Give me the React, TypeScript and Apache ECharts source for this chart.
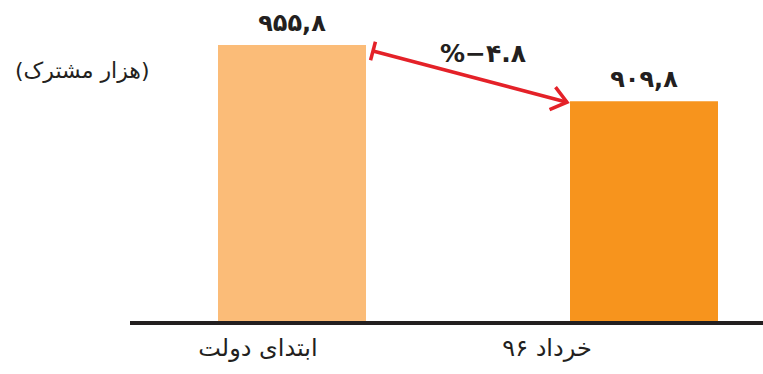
import React, { useEffect, useRef } from "react";
import * as echarts from "echarts";

// Subscribers (thousands) at the start of the government and in Khordad 96
const categories = ["ابتدای دولت", "خرداد ۹۶"];
const subscribers = [955.8, 909.8];
const barColors = ["#FBBC78", "#F7941D"];
const unitLabel = "(هزار مشترک)";

const TEXT = "#231F20";
const RED = "#E42128";
const FONT = "'DejaVu Sans', 'Noto Sans', sans-serif";
const BAR_WIDTH = 148;
const VIEW_W = 763;

const toPersian = (s: string) => s.replace(/\d/g, (d) => "۰۱۲۳۴۵۶۷۸۹"[+d]);

export default function App() {
  const ref = useRef<HTMLDivElement>(null);

  useEffect(() => {
    if (!ref.current) return;
    const chart = echarts.init(ref.current, null, { renderer: "svg" });

    chart.setOption({
      animation: false,
      // the plot runs past the visible right edge so the second bar sits near it
      grid: { left: 116, right: 0, top: 45, bottom: 53 },
      title: {
        text: unitLabel,
        left: 10,
        top: 54,
        textStyle: { fontFamily: FONT, fontSize: 22, fontWeight: "normal", color: TEXT },
      },
      xAxis: {
        type: "category",
        data: categories,
        axisLine: { show: false },
        axisTick: { show: false },
        axisLabel: {
          margin: 15,
          formatter: (v: string, i: number) => `{c${i}|${v}}`,
          rich: {
            c0: { fontFamily: FONT, fontSize: 24, color: TEXT, padding: [0, 68, 0, 0] },
            c1: { fontFamily: FONT, fontSize: 24, color: TEXT, padding: [0, 194, 0, 0] },
          },
        },
      },
      yAxis: { type: "value", min: 730, max: 955.8, show: false, splitLine: { show: false } },
      series: [
        {
          type: "bar",
          barWidth: BAR_WIDTH,
          data: subscribers.map((v, i) => ({ value: v, itemStyle: { color: barColors[i] } })),
          label: {
            show: true,
            position: "top",
            distance: 10,
            fontFamily: FONT,
            fontSize: 24,
            fontWeight: "bold",
            color: TEXT,
            formatter: (p: any) => toPersian(p.value.toFixed(1)).replace(".", ","),
          },
        },
      ],
    });

    // Change arrow between the two bar tops
    const [x0, y0] = chart.convertToPixel({ gridIndex: 0 }, [0, subscribers[0]]);
    const [x1, y1] = chart.convertToPixel({ gridIndex: 0 }, [1, subscribers[1]]);
    const sx = x0 + BAR_WIDTH / 2 + 7;
    const sy = y0 + 6;
    const tx = x1 - BAR_WIDTH / 2 - 3;
    const ty = y1 + 1;
    const ang = Math.atan2(ty - sy, tx - sx);
    const headLen = 19;
    const headA = (38 * Math.PI) / 180;
    const back = ang + Math.PI;
    const h1 = [tx + headLen * Math.cos(back - headA), ty + headLen * Math.sin(back - headA)];
    const h2 = [tx + headLen * Math.cos(back + headA), ty + headLen * Math.sin(back + headA)];
    const capLen = 9.5;
    const px = -Math.sin(ang);
    const py = Math.cos(ang);

    const change = ((subscribers[1] - subscribers[0]) / subscribers[0]) * 100;
    const changeLabel = "%" + (change < 0 ? "−" : "") + toPersian(Math.abs(change).toFixed(1));

    const lineStyle = { stroke: RED, lineWidth: 3.5 };
    const axisY = chart.convertToPixel({ gridIndex: 0 }, [0, 730])[1] + 2;

    chart.setOption({
      graphic: [
        {
          type: "line",
          shape: { x1: 130, y1: axisY, x2: VIEW_W, y2: axisY },
          style: { stroke: TEXT, lineWidth: 4 },
        },
        { type: "line", shape: { x1: sx, y1: sy, x2: tx, y2: ty }, style: lineStyle },
        {
          type: "line",
          shape: { x1: sx + px * capLen, y1: sy + py * capLen, x2: sx - px * capLen, y2: sy - py * capLen },
          style: lineStyle,
        },
        {
          type: "polyline",
          shape: { points: [h1, [tx, ty], h2] },
          style: { ...lineStyle, fill: null },
        },
        {
          type: "text",
          x: (sx + tx) / 2 + 13,
          y: (sy + ty) / 2 - 23,
          style: {
            text: changeLabel,
            fontFamily: FONT,
            fontSize: 25,
            fontWeight: "bold",
            fill: TEXT,
            align: "center",
            verticalAlign: "middle",
          },
        },
      ],
    });

    return () => chart.dispose();
  }, []);

  return (
    <div
      style={{
        position: "absolute",
        left: 0,
        top: 0,
        width: VIEW_W,
        height: 374,
        overflow: "hidden",
        background: "#fff",
      }}
    >
      <div ref={ref} style={{ width: 820, height: 374 }} />
    </div>
  );
}
